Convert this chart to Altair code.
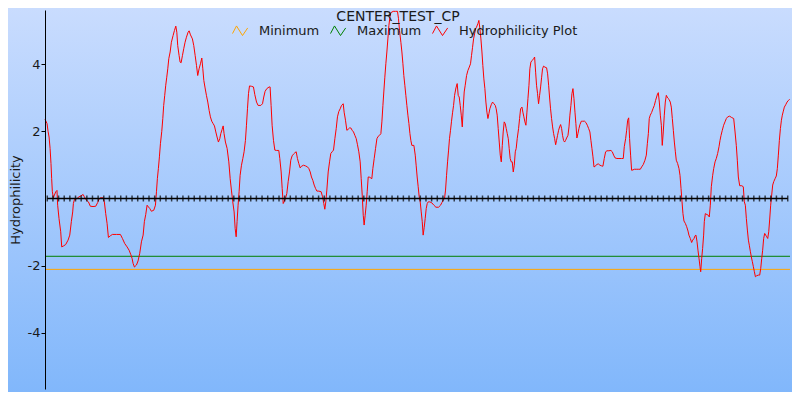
import altair as alt
import pandas as pd

# ---------------- data ----------------
chart_title = "CENTER_TEST_CP"
series_names = ["Minimum", "Maximum", "Hydrophilicity Plot"]
series_colors = ["#FFA500", "#008000", "#FF0000"]

minimum_level = -2.11
maximum_level = -1.72
first_position = 0
last_position = 659

positions = [
    0, 1.8, 2.7, 3.6, 4.5, 5.3, 5.9, 6.5, 7.4, 8.3, 9.5, 10.6, 11.2, 12.4, 13.9, 14.8, 16.5, 18.3, 20.4, 21.9,
    23.3, 24.5, 25.1, 26.0, 27.2, 28.3, 30.1, 31.9, 33.7, 34.8, 36.6, 38.4, 40.1, 42.5, 44.9, 46.6, 47.8, 49.0,
    51.4, 52.5, 53.7, 54.9, 56.1, 57.8, 59.6, 63.2, 66.7, 68.5, 70.5, 72.6, 74.4, 75.8, 77.0, 77.9, 79.1, 80.9,
    82.3, 83.8, 85.3, 86.8, 87.9, 89.1, 90.3, 91.5, 92.7, 94.1, 96.2, 97.7, 98.6, 99.4, 100.3, 101.2, 102.1,
    103.3, 104.2, 105.0, 105.9, 106.8, 107.7, 108.6, 109.5, 110.7, 111.8, 113.3, 114.5, 115.7, 116.6, 117.4,
    118.6, 119.5, 120.4, 121.6, 122.8, 123.9, 125.1, 126.6, 127.5, 128.7, 130.4, 131.6, 132.8, 134.0, 135.1,
    136.3, 137.5, 138.7, 139.6, 140.5, 141.6, 142.8, 144.0, 145.2, 146.3, 147.5, 148.7, 149.9, 151.1, 152.2,
    153.4, 154.6, 155.5, 156.7, 157.6, 158.4, 159.6, 161.1,
    162.6, 163.8, 164.9, 166.1, 167.3, 168.2, 169.1, 169.9, 170.8, 171.7, 172.6, 173.8, 175.0, 176.1, 177.3,
    178.2, 179.1, 180.0, 180.9, 182.6, 184.4, 185.6, 187.1, 188.5, 190.9, 192.4, 193.5, 194.7, 196.2, 198.3,
    199.1, 200.0, 200.9, 202.1, 203.3, 204.8, 206.8, 207.7, 208.9, 209.8, 210.7, 211.5, 212.7, 213.9, 215.1,
    216.3, 217.4, 218.6, 219.8, 221.0, 222.2, 223.3, 224.5, 225.7, 226.9, 228.7, 230.4, 232.2, 233.4, 234.6,
    235.7, 236.9, 238.1, 239.3, 240.5, 242.2, 244.3, 245.5, 246.6, 247.5, 248.4, 249.3, 250.5, 251.7, 252.8,
    254.0, 255.2, 256.4, 257.6, 258.7, 259.9, 261.1, 262.3, 263.8, 264.6, 265.8, 267.0, 268.2, 269.4, 270.5,
    271.7, 272.9, 274.1, 275.3, 276.4, 277.6, 278.8, 279.7, 280.6, 281.5, 282.3, 283.2, 284.1, 285.0, 285.9,
    287.1, 287.9, 289.1, 290.0, 291.2, 292.4, 293.6, 294.7, 295.9, 297.1, 298.0, 298.9, 299.7, 300.6, 301.5,
    302.4, 303.3, 304.2, 305.1, 305.9, 308.0, 310.1, 311.8, 312.7, 313.6, 314.8, 315.7, 316.6, 317.4, 318.3,
    319.2, 320.1, 321.0, 321.9, 322.8, 323.6, 324.5,
    326.3, 327.5, 328.3, 329.2, 330.1, 331.0, 331.9, 332.8, 333.7, 334.5, 335.4, 336.3, 337.2, 338.1, 339.0,
    340.4, 342.2, 344.0, 345.8, 348.1, 349.9, 351.1, 352.2, 353.4, 354.3, 355.2, 356.1, 357.0, 357.8, 358.7,
    359.6, 360.5, 361.4, 362.3, 363.5, 364.6, 365.5, 366.4, 367.3, 368.2, 369.1, 369.9, 370.8, 371.7, 372.9,
    374.1, 375.3, 376.4, 377.3, 378.2, 379.1, 380.0, 380.9, 381.7, 382.9, 383.8, 384.7, 385.6, 386.5, 387.3,
    388.2, 389.1, 390.0, 390.9, 391.8, 392.7, 393.5, 394.7, 395.9, 397.1, 398.3, 399.1, 400.0, 400.9, 401.8,
    402.7, 403.6, 404.5, 405.3, 406.2, 407.1, 408.0, 408.9, 409.8, 410.6, 411.5, 412.4, 413.3, 414.2, 415.1,
    416.0, 416.8, 417.7, 418.9, 419.8, 420.7, 421.9, 422.7, 423.6, 424.5, 425.4, 426.3, 427.2, 428.1, 428.9,
    429.8, 431.0, 432.2, 433.1, 434.0, 434.8, 435.7, 436.6, 437.5, 438.4, 439.3, 440.1, 441.0, 442.2, 443.7,
    444.6, 445.5, 446.3, 447.2, 448.1, 449.0, 449.9, 450.8, 451.7, 452.5, 453.4, 454.3, 455.2, 456.1, 457.0,
    457.8, 458.7, 459.6, 460.5, 461.4, 462.6, 463.5, 464.3, 465.2, 466.1, 467.0, 467.9, 468.8, 469.6, 470.5,
    471.4, 472.3, 473.2, 474.4, 475.5, 477.3, 478.5, 479.7, 480.9, 482.0, 482.9, 483.8, 484.7, 485.6, 486.8,
    487.9,
    489.4, 490.9, 492.4, 493.5, 494.7, 495.9, 497.1, 498.8, 500.6, 501.8, 503.0, 504.2, 505.9, 507.7, 510.1,
    511.5, 512.4, 513.6, 514.5, 515.4, 516.3, 517.1, 518.0, 518.9, 520.1, 521.3, 523.0, 524.8, 526.6, 527.8,
    529.2, 530.7, 531.9, 532.8, 533.7, 534.5, 535.4, 536.6, 537.8, 539.0, 540.1, 541.0, 541.9, 542.5, 543.4,
    544.3, 545.2, 546.0, 546.9, 547.8, 548.7, 549.6, 550.8, 552.0, 553.1, 554.0, 554.9, 555.8, 556.7, 557.6,
    558.4, 559.6, 560.8, 561.7, 562.6, 563.5, 564.3, 565.2, 566.4, 567.6, 568.8, 569.6, 570.8, 572.0, 572.9,
    574.1, 575.0, 575.8, 576.7, 577.6, 578.5, 579.4, 580.0, 580.9, 581.7, 582.6, 583.2, 584.1, 585.6, 586.8,
    587.6, 588.5, 589.4, 590.6, 591.5, 592.7, 593.8, 595.0, 596.2, 597.1, 598.0, 599.1, 600.3, 601.5, 602.7,
    603.9, 605.6, 607.4, 609.2, 610.4, 611.5, 612.4, 613.3, 614.5, 616.3, 617.7, 618.6, 619.5, 620.4, 621.3,
    622.2, 623.0, 623.9, 624.8, 625.7, 626.6, 627.5, 628.4, 629.5, 631.0, 632.2, 633.1, 634.0, 634.8, 635.7,
    636.6, 637.5, 638.4, 639.3, 640.2, 641.0, 641.9, 642.8, 643.7, 644.6, 645.8, 646.9, 647.8, 648.7, 649.6,
    650.5, 651.4, 652.2, 653.1, 654.0, 655.2, 656.4, 657.6, 658.7,
]

hydrophilicity = [
    2.36, 2.23, 2.0, 1.83, 1.49, 1.04, 0.59, 0.2, 0.02, 0.1, 0.2, 0.24, -0.2, -0.6, -0.99, -1.44, -1.41, -1.37,
    -1.24, -1.09, -0.69, -0.4, -0.15, -0.03, -0.02, 0.0, 0.05, 0.08, 0.12, 0.05, -0.05, -0.1, -0.23, -0.24,
    -0.23, -0.12, -0.02, 0.02, 0.02, -0.1, -0.45, -0.74, -1.16, -1.11, -1.07, -1.07, -1.07, -1.19, -1.34,
    -1.44, -1.54, -1.66, -1.78, -1.93, -2.04, -1.98, -1.86, -1.63, -1.29, -1.09, -0.69, -0.48, -0.2, -0.25,
    -0.3, -0.38, -0.35, -0.2, 0.2, 0.59, 0.89, 1.24, 1.63, 2.0, 2.38, 2.77, 3.07, 3.37, 3.61, 3.86, 4.16, 4.36,
    4.65, 4.85, 5.0, 5.13, 4.95, 4.55, 4.26, 4.06, 4.04, 4.26, 4.47, 4.65, 4.8, 4.95, 4.99, 4.87, 4.75, 4.55,
    4.26, 3.96, 3.66, 3.86, 4.01, 4.18, 3.86, 3.51, 3.29, 3.07, 2.87, 2.62, 2.43, 2.3, 2.23, 2.16, 1.98, 1.83,
    1.68, 1.78, 1.93, 2.06, 2.16, 1.93, 1.68, 1.49,
    1.09, 0.59, 0.25, -0.1, -0.4, -0.89, -1.14, -0.69, -0.2, 0.2, 0.69, 0.99, 1.19, 1.39, 1.73, 2.18, 2.67,
    3.12, 3.35, 3.34, 3.32, 3.09, 2.87, 2.77, 2.77, 2.82, 3.02, 3.19, 3.27, 3.32, 3.32, 2.77, 2.18, 1.73, 1.44,
    1.43, 1.43, 1.19, 0.79, 0.3, -0.15, -0.1, 0.0, 0.15, 0.5, 0.79, 1.14, 1.27, 1.32, 1.36, 1.39, 1.19, 1.04,
    0.91, 0.96, 0.99, 0.97, 0.94, 0.89, 0.79, 0.64, 0.54, 0.4, 0.3, 0.22, 0.22, 0.2, 0.05, -0.15, -0.32, -0.1,
    0.25, 0.79, 1.09, 1.34, 1.39, 1.44, 1.78, 2.08, 2.43, 2.59, 2.67, 2.77, 2.82, 2.57, 2.33, 2.03, 2.06, 2.1,
    2.1, 2.03, 1.98, 1.88, 1.78, 1.6, 1.39, 1.09, 0.59, 0.1, -0.5, -0.79, -0.5, -0.2, 0.2, 0.64, 0.64, 0.61,
    0.59, 0.89, 1.19, 1.49, 1.78, 1.85, 1.88, 1.93, 2.28, 2.77, 3.17, 3.61, 4.01, 4.36, 4.75, 5.15, 5.4, 5.53,
    5.57, 5.57, 5.57, 5.35, 5.0, 4.65, 4.36, 4.01, 3.66, 3.37, 3.07, 2.77, 2.48, 2.23, 1.93, 1.73, 1.58,
    1.58, 1.29, 0.99, 0.64, 0.35, 0.05, -0.1, -0.4, -0.69, -1.09, -0.87, -0.6, -0.3, -0.15, -0.1, -0.1, -0.13,
    -0.2, -0.26, -0.26, -0.2, -0.12, -0.05, 0.0, 0.25, 0.69, 1.09, 1.44, 1.78, 2.03, 2.3, 2.55, 2.77, 3.07,
    3.29, 3.42, 3.07, 3.02, 2.77, 2.48, 2.13, 2.67, 3.17, 3.37, 3.66, 3.81, 3.91, 4.01, 4.26, 4.5, 4.75, 4.9,
    5.05, 5.1, 5.2, 5.3, 5.05, 4.75, 4.36, 3.96, 3.56, 3.27, 2.87, 2.57, 2.38, 2.53, 2.67, 2.79, 2.87, 2.82,
    2.77, 2.67, 2.48, 2.08, 1.68, 1.29, 1.09, 1.58, 1.98, 2.28, 2.23, 2.08, 1.93, 1.78, 1.49, 1.19, 1.09, 1.09,
    0.79, 0.99, 1.39, 1.49, 1.78, 2.08, 2.38, 2.67, 2.72, 2.57, 2.43, 2.28, 2.18, 2.57, 2.97, 3.37, 3.86, 4.06,
    4.11, 4.16, 4.21, 3.76, 3.37, 3.12, 2.82, 3.07, 3.32, 3.61, 3.86, 3.94, 3.91, 3.89, 3.71, 3.37, 3.02, 2.67,
    2.38, 2.13, 1.93, 1.78, 1.6, 1.73, 1.88, 2.03, 2.13, 2.2, 2.08, 1.88, 1.73, 1.68, 1.73, 1.8, 1.88, 2.13,
    2.48, 2.77, 3.12, 3.27, 2.97, 2.57, 2.23, 1.8, 1.93, 2.08, 2.2, 2.3, 2.3, 2.3, 2.26, 2.18, 2.08, 1.98, 1.73,
    1.49, 1.24, 0.94, 0.96, 1.01,
    1.03, 0.99, 0.97, 0.96, 1.19, 1.39, 1.42, 1.42, 1.43, 1.39, 1.29, 1.21, 1.19, 1.19, 1.19, 1.19, 1.54, 1.78,
    2.03, 2.33, 2.4, 1.78, 1.29, 0.84, 0.85, 0.87, 0.87, 0.87, 0.87, 0.94, 1.01, 1.14, 1.29, 1.63, 1.93, 2.38,
    2.48, 2.56, 2.67, 2.77, 2.92, 3.02, 3.12, 3.15, 2.87, 2.48, 2.18, 1.58, 1.98, 2.48, 2.87, 3.07, 2.99, 2.95,
    2.87, 2.72, 2.38, 2.03, 1.68, 1.39, 1.14, 1.04, 0.89, 0.69, 0.3, -0.1, -0.45, -0.67, -0.74, -0.84, -0.97,
    -1.09, -1.19, -1.31, -1.24, -1.19, -1.11, -1.09, -1.27, -1.54, -1.78, -2.03, -2.18, -1.78, -1.49, -1.09,
    -0.69, -0.45, -0.48, -0.5, -0.55, -0.2, 0.35, 0.69, 0.89, 1.09, 1.19, 1.34, 1.54, 1.73, 1.88, 2.03, 2.18,
    2.28, 2.38, 2.43, 2.45, 2.41, 2.38, 1.98, 1.58, 1.14, 0.64, 0.38, 0.38, 0.35, -0.1, -0.2, -0.6, -0.94,
    -1.24, -1.39, -1.57, -1.74, -1.88, -2.03, -2.18, -2.33, -2.3, -2.28, -2.28, -2.08, -1.78, -1.54, -1.19,
    -1.04, -1.09, -1.14, -1.19, -0.99, -0.64, -0.2, 0.1, 0.4, 0.5, 0.59, 0.67, 0.89, 1.29, 1.73, 2.08, 2.33,
    2.48, 2.6, 2.72, 2.79, 2.87, 2.92, 2.95,
]

tick_positions = list(range(2, 660, 5))
y_ticks = [-4, -2, 2, 4]
y_domain = [-5.67, 5.61]
x_domain = [first_position, last_position]

# ---------------- table ----------------
rows = []
for name, level in (("Minimum", minimum_level), ("Maximum", maximum_level)):
    rows.append({"position": first_position, "value": level, "series": name})
    rows.append({"position": last_position, "value": level, "series": name})
for p, v in zip(positions, hydrophilicity):
    rows.append({"position": p, "value": v, "series": "Hydrophilicity Plot"})
df = pd.DataFrame(rows)
ticks_df = pd.DataFrame({"position": tick_positions, "value": [0] * len(tick_positions)})

FONT = "DejaVu Sans"
W, H = 745, 379
PAD = {"left": 37, "top": 2, "right": 2, "bottom": 3}

x_scale = alt.Scale(domain=x_domain, nice=False, zero=False)
y_scale = alt.Scale(domain=y_domain, nice=False, zero=False)

y_axis = alt.Axis(
    values=y_ticks,
    grid=False,
    zindex=2,
    domainColor="black",
    tickColor="black",
    tickSize=4,
    labelPadding=1,
    labelFontSize=13,
    labelFont=FONT,
    labelColor="#1a1a1a",
    labelExpr="datum.value < 0 ? '-' + format(-datum.value, 'd') : format(datum.value, 'd')",
    titleFont=FONT,
    titleFontSize=13,
    titleFontWeight="normal",
    titleColor="#1a1a1a",
    titlePadding=5,
)

gradient = alt.Gradient(
    gradient="linear",
    stops=[alt.GradientStop(color="#C9DCFE", offset=0), alt.GradientStop(color="#81B7FB", offset=1)],
    x1=0, x2=0, y1=0, y2=1,
)

background = alt.Chart(alt.Data(values=[{}])).mark_rect(fill=gradient, strokeWidth=0).encode(
    x=alt.value(-PAD["left"]), x2=alt.value(W + PAD["right"]),
    y=alt.value(-PAD["top"]), y2=alt.value(H + PAD["bottom"]),
)

lines = alt.Chart(df).mark_line(strokeWidth=1).encode(
    x=alt.X("position:Q", scale=x_scale, axis=None),
    y=alt.Y("value:Q", scale=y_scale, title="Hydrophilicity", axis=y_axis),
    color=alt.Color(
        "series:N",
        scale=alt.Scale(domain=series_names, range=series_colors),
        legend=alt.Legend(
            title=None,
            orient="none",
            direction="horizontal",
            legendX=187,
            legendY=12,
            padding=0,
            symbolType="M-1,0.35L-0.5,-0.6L0.25,0.6L0.9,-0.35",
            symbolSize=256,
            symbolStrokeWidth=1,
            symbolFillColor="transparent",
            labelFont=FONT,
            labelFontSize=13,
            labelColor="#1a1a1a",
            labelOffset=10,
            columnPadding=8,
        ),
    ),
    order=alt.Order("position:Q"),
)

zero_ticks = alt.Chart(ticks_df).mark_tick(orient="vertical", color="black", size=6, thickness=1.5).encode(
    x=alt.X("position:Q", scale=x_scale, axis=None),
    y=alt.Y("value:Q", scale=y_scale, title="Hydrophilicity", axis=y_axis),
)

zero_rule = alt.Chart(ticks_df).mark_rule(color="black", strokeWidth=1.5).encode(
    x=alt.X("min(position):Q", scale=x_scale, axis=None),
    x2=alt.X2("max(position):Q"),
    y=alt.Y("min(value):Q", scale=y_scale, title="Hydrophilicity", axis=y_axis),
)

title_text = alt.Chart(alt.Data(values=[{"label": chart_title}])).mark_text(
    font=FONT, fontSize=14, color="#1a1a1a", align="center", baseline="alphabetic"
).encode(text="label:N", x=alt.value(353), y=alt.value(11))

chart = alt.layer(background, lines, zero_rule, zero_ticks, title_text).properties(
    width=W,
    height=H,
    padding=PAD,
    autosize=alt.AutoSizeParams(type="none"),
    background="#C9DCFE",
).configure_view(stroke=None)

chart.save("out.html", embed_options={"renderer": "svg", "actions": False})
